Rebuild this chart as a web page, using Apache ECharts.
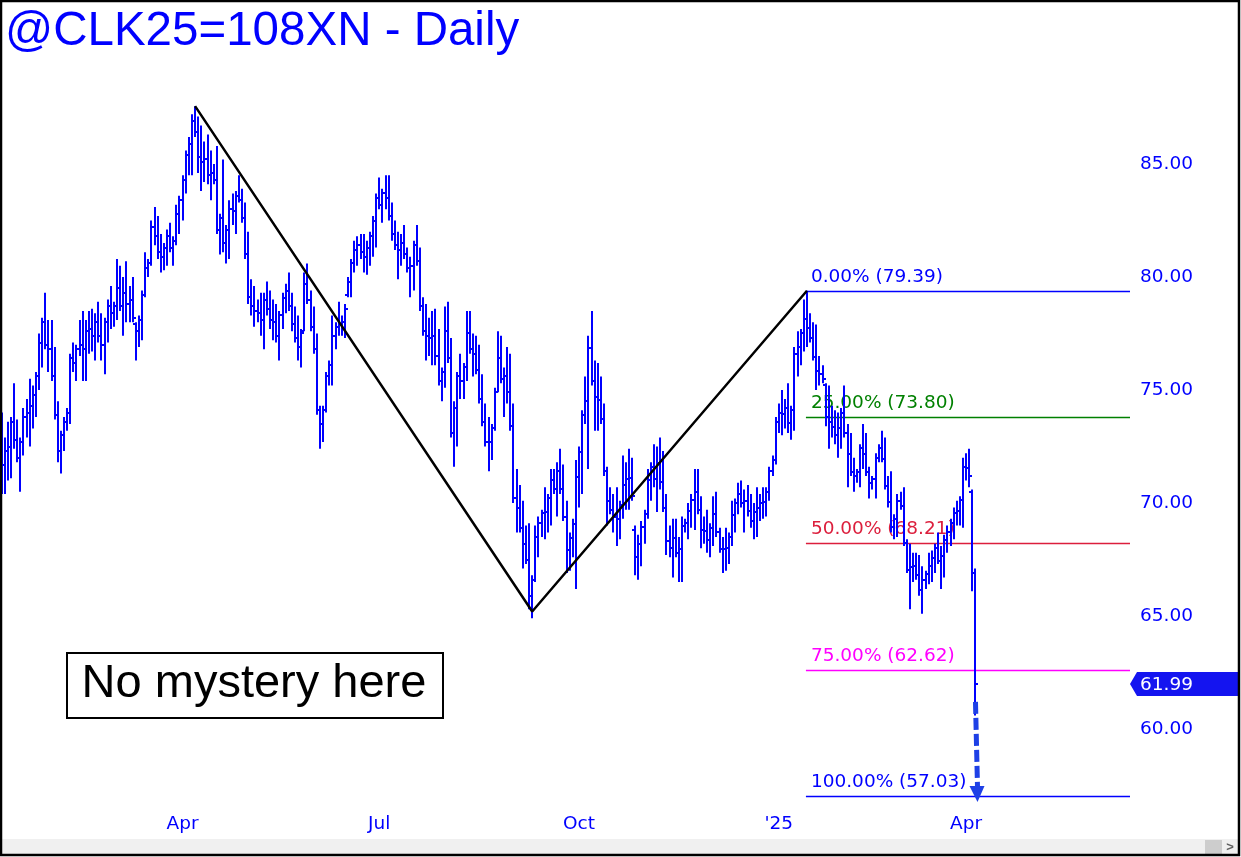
<!DOCTYPE html>
<html><head><meta charset="utf-8">
<script src="https://cdn.jsdelivr.net/npm/echarts@6/dist/echarts.min.js"></script>
<style>html,body{margin:0;padding:0;background:#fff}#c{width:1241px;height:857px}</style>
</head><body><div id="c"></div>
<script>
// ---------- data ----------
const titleText = '@CLK25=108XN - Daily';
const noteText = 'No mystery here';
const startDate = '2024-01-05';
const holidays = ['2024-01-15','2024-02-19','2024-03-29','2024-05-27','2024-06-19','2024-07-04','2024-09-02','2024-11-28','2024-12-25','2025-01-01','2025-01-09','2025-01-20','2025-02-17','2025-04-18','2025-05-26'];
const slotCount = 362;
const xTickDates = ['2024-04-01','2024-07-01','2024-10-01','2025-01-02','2025-04-01'];
const xTickLabels = ['Apr','Jul','Oct',"'25",'Apr'];

const high = [74.0,72.9,73.6,73.8,75.3,73.7,72.9,74.2,74.6,75.5,
75.2,75.8,77.5,78.2,79.3,78.1,78.1,76.9,74.5,73.2,
73.8,74.2,76.6,77.1,77.0,78.1,78.5,78.1,78.5,78.6,
78.4,78.9,78.4,78.2,79.0,79.6,78.9,80.8,80.5,80.0,
80.7,79.6,80.0,78.0,78.3,79.4,81.1,80.8,82.5,83.1,
82.7,81.9,81.5,82.1,82.4,81.8,83.2,83.6,84.5,85.6,
86.2,87.2,87.56,87.1,86.7,86.0,86.3,85.6,85.0,85.8,
82.8,85.2,82.3,83.4,83.7,83.8,84.5,83.9,83.3,82.0,
79.9,79.6,79.0,79.3,79.3,79.8,79.4,79.0,78.8,78.5,
79.3,79.7,80.2,79.3,78.7,78.3,77.7,80.2,80.6,79.4,
78.7,77.5,74.3,74.3,75.8,76.3,78.3,78.0,78.9,78.3,
78.8,80.0,80.8,81.6,81.8,81.9,81.9,81.6,82.0,82.7,
83.7,84.4,83.9,84.5,84.5,83.3,82.5,82.0,81.9,82.3,
81.3,80.9,81.6,82.3,81.3,79.1,78.8,78.2,78.5,78.6,
77.7,76.0,78.7,78.9,77.3,74.5,75.8,76.6,76.2,78.5,
78.5,77.5,77.4,77.0,75.7,74.4,73.8,73.5,75.1,77.6,
77.4,76.0,76.9,76.6,74.4,71.5,70.8,70.1,69.0,69.1,
66.8,69.0,69.4,69.7,70.7,70.4,71.5,71.5,71.8,72.4,
71.7,70.1,68.7,69.3,71.9,72.5,74.1,75.6,77.4,78.5,
76.3,76.2,75.6,74.4,71.6,70.7,70.4,70.7,70.1,72.1,
71.8,72.4,72.0,69.0,68.6,69.2,69.7,71.5,71.8,72.6,
72.5,72.9,72.3,70.4,69.0,69.3,69.3,68.5,69.4,69.3,
70.0,70.4,71.5,71.5,70.3,69.4,69.7,69.1,70.3,70.5,
68.9,68.5,68.9,68.7,70.1,70.2,70.9,71.0,70.6,70.8,
70.4,70.0,70.7,70.4,70.7,70.7,71.6,72.1,73.8,74.4,
75.0,74.6,75.3,74.3,76.9,77.6,77.7,79.0,79.39,78.4,
78.0,77.9,76.5,76.1,75.3,75.2,74.3,74.1,74.0,74.2,
75.2,73.5,73.1,72.0,71.5,72.6,73.5,73.1,71.6,71.2,
72.2,72.6,73.2,72.9,71.2,71.4,69.5,70.4,70.5,70.7,
68.4,68.2,67.8,67.8,67.7,67.2,67.0,67.8,67.9,68.2,
68.7,68.1,68.6,69.0,69.3,69.8,70.1,70.3,72.0,72.2,
72.4,70.6,67.1];

const low = [70.4,70.4,71.0,71.1,72.4,71.8,70.5,72.1,72.9,72.5,
73.3,73.8,75.0,76.0,76.8,75.8,75.4,73.7,71.8,71.3,
72.3,73.2,73.5,75.8,75.4,76.5,75.4,75.4,76.6,76.7,
76.3,77.1,76.3,75.7,77.1,77.7,77.8,78.1,78.5,77.4,
78.0,78.0,78.0,76.3,76.9,77.2,79.1,80.0,80.5,81.4,
80.8,80.2,80.3,80.5,81.1,80.5,81.4,81.9,82.5,83.7,
84.5,84.5,86.2,84.6,83.8,84.2,84.1,83.4,84.1,81.9,
81.0,81.1,80.6,80.8,82.3,81.9,83.3,82.4,80.8,78.8,
78.3,77.8,78.0,77.4,76.8,78.3,77.7,77.2,77.1,76.3,
77.7,78.4,78.5,77.6,77.1,76.3,76.0,77.6,78.8,77.6,
76.6,73.9,72.4,72.7,74.0,75.2,75.2,76.8,77.4,77.4,
77.3,79.1,79.1,80.2,80.5,80.8,80.2,80.1,80.5,80.9,
81.3,83.0,82.4,83.0,82.5,81.6,81.2,79.9,80.5,80.8,
80.2,79.1,79.4,80.5,78.5,77.4,76.3,76.5,76.1,76.1,
75.2,74.5,75.1,76.2,72.9,71.6,72.5,74.6,74.6,75.4,
76.6,75.6,75.7,74.4,73.4,72.5,71.4,71.9,73.2,74.9,
75.3,73.8,74.4,73.2,70.0,68.7,68.7,67.1,67.3,65.3,
64.9,66.5,67.6,68.5,68.4,68.7,69.0,70.4,69.4,70.4,
69.2,66.9,67.0,67.6,66.2,69.8,70.4,73.5,71.5,75.2,
73.2,73.2,73.5,71.2,69.0,69.5,68.7,68.1,68.4,69.3,
69.7,69.7,70.1,66.8,66.6,67.2,68.2,69.3,70.1,70.7,
69.6,70.6,69.6,67.7,67.6,66.7,67.6,66.5,66.5,68.7,
68.4,68.9,68.8,69.5,68.0,68.2,67.8,67.6,68.1,68.5,
67.8,66.9,67.0,67.3,68.1,68.7,69.5,69.8,68.7,69.4,
68.9,68.4,68.5,69.2,69.3,69.4,70.1,71.2,71.7,73.1,
73.0,73.3,73.1,72.8,73.2,75.6,76.1,76.7,76.9,77.1,
76.3,75.0,75.2,75.3,73.4,72.4,72.9,72.6,72.0,72.4,
72.9,70.7,71.2,70.5,70.9,70.7,71.5,71.2,70.2,70.6,
70.2,71.8,71.8,70.6,69.8,68.7,68.4,68.5,69.7,68.1,
66.9,65.3,66.5,66.6,65.9,65.1,66.2,66.4,66.5,66.9,
67.3,66.2,66.7,67.8,68.1,68.4,69.0,69.0,68.9,71.0,
70.7,66.1,60.6];

const open = [72.5,71.7,72.3,72.5,73.6,72.8,72.0,72.7,73.8,74.0,
74.3,74.8,75.6,77.1,78.0,77.0,76.8,75.6,73.9,72.3,
73.0,73.6,74.0,76.4,76.2,76.8,77.0,76.8,77.6,77.7,
77.4,78.0,77.4,77.0,78.0,78.7,78.4,78.7,79.5,78.7,
79.3,78.8,79.0,77.9,77.6,78.1,79.2,80.4,80.6,82.2,
81.8,81.1,80.9,81.3,81.8,81.3,81.6,82.8,83.4,84.3,
85.4,85.9,86.9,86.4,85.3,85.1,85.2,84.5,84.6,84.3,
82.1,82.6,81.5,82.1,83.0,82.9,83.6,83.4,82.6,81.0,
79.1,78.7,78.5,78.4,78.1,79.0,78.6,78.1,78.0,77.4,
78.3,79.05,79.4,78.7,77.9,77.3,76.9,77.6,79.7,79.0,
77.8,76.8,74.1,73.5,74.1,75.6,76.1,77.4,77.8,77.9,
78.0,79.2,79.8,80.6,81.2,81.4,81.1,80.9,81.3,81.8,
82.5,83.5,83.2,83.7,83.5,82.7,81.9,81.4,81.2,81.5,
81.0,80.4,80.5,81.4,80.7,78.7,77.6,77.4,77.3,77.4,
76.5,75.4,75.8,77.6,76.4,73.1,74.2,75.6,75.4,76.0,
77.5,76.8,76.6,75.9,74.6,73.6,72.7,72.7,73.3,74.9,
76.4,75.5,75.6,74.9,73.4,70.2,69.8,68.9,68.2,67.5,
65.9,66.6,68.5,69.1,69.55,69.6,70.2,71.0,70.6,71.4,
70.6,69.4,67.9,68.45,69.05,71.15,72.25,73.9,74.5,76.85,
75.4,74.7,74.55,73.7,71.4,70.1,69.7,69.4,69.3,69.9,
70.8,71.05,71.1,68.8,67.6,68.2,68.95,69.5,71.0,71.6,
71.05,71.75,70.95,69.8,68.3,68.0,68.45,67.8,67.95,69.0,
69.1,69.65,70.15,70.5,69.7,68.8,68.75,68.35,68.9,69.5,
68.7,67.95,67.95,68.0,68.5,69.45,70.0,70.4,70.0,70.1,
69.65,69.2,69.6,69.8,70.0,70.05,70.5,71.4,71.9,73.6,
74.0,73.95,74.2,73.55,74.1,76.6,76.9,77.5,78.15,77.75,
77.3,76.45,75.85,75.7,75.2,73.8,73.6,73.35,73.0,73.3,
74.0,73.1,72.15,71.35,71.2,71.35,72.45,72.15,71.35,70.9,
71.05,72.0,72.45,71.95,70.75,70.05,68.95,69.3,70.1,69.85,
68.25,67.05,67.15,67.2,66.8,66.15,66.6,66.85,67.2,67.55,
68.0,67.45,67.65,68.35,68.7,69.1,69.55,69.65,70.15,71.6,
71.55,70.5,66.9];

const close = [71.7,72.3,72.5,73.6,72.8,72.0,72.7,73.8,74.0,74.3,
74.8,75.6,77.1,78.0,77.0,76.8,75.6,73.9,72.3,73.0,
73.6,74.0,76.4,76.2,76.8,77.0,76.8,77.6,77.7,77.4,
78.0,77.4,77.0,78.0,78.7,78.4,78.7,79.5,78.7,79.3,
78.8,79.0,78.2,77.6,78.1,79.2,80.4,80.6,82.2,81.8,
81.1,80.9,81.3,81.8,81.3,81.6,82.8,83.4,84.3,85.4,
85.9,86.9,86.4,85.3,85.1,85.2,84.5,84.6,84.3,82.1,
82.6,81.5,82.1,83.0,82.9,83.6,83.4,82.6,81.0,79.1,
78.7,78.5,78.4,78.1,79.0,78.6,78.1,78.0,77.4,78.3,
79.05,79.4,78.7,77.9,77.3,76.9,77.5,79.7,79.0,77.8,
76.8,74.1,73.5,74.1,75.6,76.1,77.4,77.8,77.9,78.0,
78.6,79.8,80.6,81.2,81.4,81.1,80.9,81.3,81.8,82.5,
83.5,83.2,83.7,83.5,82.7,81.9,81.4,81.2,81.5,81.0,
80.4,80.5,81.4,80.7,78.7,77.6,77.4,77.3,77.4,76.5,
75.4,75.8,77.6,76.4,73.1,74.2,75.6,75.4,76.0,77.5,
76.8,76.6,75.9,74.6,73.6,72.7,72.7,73.3,74.9,76.4,
75.5,75.6,74.9,73.4,70.2,69.8,68.9,68.2,67.5,65.9,
66.6,68.5,69.1,69.55,69.6,70.2,71.0,70.6,71.4,70.6,
69.4,67.9,68.45,69.05,71.15,72.25,73.9,74.5,76.85,75.4,
74.7,74.55,73.7,71.4,70.1,69.7,69.4,69.3,69.9,70.8,
71.05,71.1,70.3,67.6,68.2,68.95,69.5,71.0,71.6,71.05,
71.75,70.95,69.8,68.3,68.0,68.45,67.8,67.95,69.0,69.1,
69.65,70.15,70.5,69.7,68.8,68.75,68.35,68.9,69.5,68.7,
67.95,67.95,68.0,68.5,69.45,70.0,70.4,70.0,70.1,69.65,
69.2,69.6,69.8,70.0,70.05,70.5,71.4,71.9,73.6,74.0,
73.95,74.2,73.55,74.1,76.6,76.9,77.5,78.15,77.75,77.3,
76.45,75.85,75.7,75.5,73.8,73.6,73.35,73.0,73.3,74.0,
73.1,72.15,71.35,71.2,71.35,72.45,72.15,71.35,70.9,71.05,
72.0,72.45,71.95,70.75,70.05,68.95,69.3,70.1,69.85,68.25,
67.05,67.15,67.2,66.8,66.15,66.6,66.85,67.2,67.55,68.0,
67.45,67.65,68.35,68.7,69.1,69.55,69.65,70.15,71.6,71.55,
71.2,66.9,61.99];

// swing points (bar index, price)
const swingIdx = [62, 170, 258];
const swingPrice = [87.56, 65.20, 79.39];
// Fibonacci projection
const fibPct = [0, 25, 50, 75, 100];
const fibPrice = [79.39, 73.80, 68.21, 62.62, 57.03];
const fibColor = ['#0000ff', '#008000', '#dc1e3c', '#ff00ff', '#0000ff'];
const fibStartIdx = 258;
const lastPrice = 61.99;
const projFrom = 61.2;
const projTo = 57.03;

// ---------- helpers ----------
const dates = [];
for (let d = new Date(startDate + 'T00:00:00Z'); dates.length < slotCount; d.setUTCDate(d.getUTCDate() + 1)) {
  const wd = d.getUTCDay();
  const s = d.toISOString().slice(0, 10);
  if (wd === 0 || wd === 6 || holidays.includes(s)) continue;
  dates.push(s);
}
const tickIdx = xTickDates.map(s => dates.indexOf(s));
const lastIdx = close.length - 1;
const FONT = '"Liberation Sans", Arial, sans-serif';
const SMALL = '"DejaVu Sans", Verdana, sans-serif';
const BLUE = '#0000ff';

const ohlcData = high.map((h, i) => [i, open[i], h, low[i], close[i]]);

const chart = echarts.init(document.getElementById('c'), null, {renderer: 'canvas'});
chart.setOption({
  animation: false,
  backgroundColor: '#ffffff',
  title: {
    text: titleText, left: 5, top: 8, padding: 0,
    textStyle: {color: BLUE, fontSize: 47.5, fontWeight: 'normal', fontFamily: FONT}
  },
  grid: {left: 0, right: 111, top: 51, bottom: 15, containLabel: false},
  xAxis: {
    type: 'category', data: dates, boundaryGap: true,
    axisLine: {show: false}, axisTick: {show: false}, splitLine: {show: false},
    axisLabel: {
      interval: (idx) => tickIdx.includes(idx),
      formatter: (v, idx) => { const k = tickIdx.indexOf(idx); return k >= 0 ? xTickLabels[k] : ''; },
      margin: -27, color: BLUE, fontSize: 18.5, fontFamily: SMALL
    }
  },
  yAxis: {
    type: 'value', position: 'right', min: 55, max: 90, interval: 5, scale: true,
    axisLine: {show: false}, axisTick: {show: false}, splitLine: {show: false},
    axisLabel: {
      showMinLabel: false, showMaxLabel: false, margin: 10,
      formatter: v => v.toFixed(2), color: BLUE, fontSize: 18.5, fontFamily: SMALL
    }
  },
  series: [
    { // Fibonacci lines and labels
      type: 'custom', z: 1, silent: true,
      data: [[fibStartIdx, fibPrice[0]]],
      renderItem: function (params, api) {
        const right = params.coordSys.x + params.coordSys.width;
        const children = [];
        fibPrice.forEach((v, k) => {
          const p = api.coord([fibStartIdx, v]);
          const y = Math.round(p[1]) + 0.5;
          children.push({type: 'line', shape: {x1: p[0] - 1, y1: y, x2: right, y2: y},
            style: {stroke: fibColor[k], lineWidth: 1.5}});
          children.push({type: 'text', x: p[0] + 4, y: y - 14,
            style: {text: fibPct[k].toFixed(2) + '% (' + v.toFixed(2) + ')', fill: fibColor[k],
              font: '18.5px ' + SMALL, align: 'left', verticalAlign: 'middle'}});
        });
        return {type: 'group', children};
      }
    },
    { // OHLC bars
      type: 'custom', z: 2, silent: true,
      data: ohlcData,
      encode: {x: 0, y: [1, 2, 3, 4]},
      renderItem: function (params, api) {
        const i = api.value(0);
        const ph = api.coord([i, api.value(2)]);
        const yl = api.coord([i, api.value(3)])[1];
        const yo = Math.round(api.coord([i, api.value(1)])[1]);
        const yc = Math.round(api.coord([i, api.value(4)])[1]);
        const x = Math.round(ph[0]);
        const st = {stroke: BLUE, lineWidth: 2};
        return {type: 'group', children: [
          {type: 'line', shape: {x1: x, y1: ph[1], x2: x, y2: yl}, style: st},
          {type: 'line', shape: {x1: x - 3, y1: yo, x2: x, y2: yo}, style: st},
          {type: 'line', shape: {x1: x, y1: yc, x2: x + 3, y2: yc}, style: st}
        ]};
      }
    },
    { // swing zigzag
      type: 'line', z: 3, silent: true,
      data: swingIdx.map((ix, k) => [ix, swingPrice[k]]),
      symbol: 'rect', symbolSize: 7,
      lineStyle: {color: '#000000', width: 2.5},
      itemStyle: {color: '#000000'}
    },
    { // projection arrow and last price tag
      type: 'custom', z: 4, silent: true,
      data: [[lastIdx, lastPrice]],
      renderItem: function (params, api) {
        const right = params.coordSys.x + params.coordSys.width;
        const pTop = api.coord([lastIdx, projFrom]);
        const pEnd = api.coord([lastIdx, projTo]);
        const x = pTop[0];
        const tipY = pEnd[1] + 6;
        const baseY = tipY - 16;
        const tag = api.coord([lastIdx, lastPrice]);
        const ty = Math.round(tag[1]);
        return {type: 'group', children: [
          {type: 'line', shape: {x1: x, y1: pTop[1], x2: x + 2, y2: baseY},
            style: {stroke: '#1e40e6', lineWidth: 5, lineDash: [12, 4]}},
          {type: 'polygon', shape: {points: [[x - 6, baseY], [x + 9, baseY], [x + 2, tipY]]},
            style: {fill: '#1e40e6'}},
          {type: 'polygon', shape: {points: [[right, ty], [right + 7, ty - 12], [1238, ty - 12], [1238, ty + 12], [right + 7, ty + 12]]},
            style: {fill: '#1414f0'}},
          {type: 'text', x: right + 10, y: ty + 1,
            style: {text: lastPrice.toFixed(2), fill: '#ffffff', font: '18.5px ' + SMALL, align: 'left', verticalAlign: 'middle'}}
        ]};
      }
    }
  ],
  graphic: [
    {type: 'rect', left: 66, top: 652, shape: {width: 376, height: 65}, style: {fill: '#ffffff', stroke: '#000000', lineWidth: 2}, z: 10},
    {type: 'text', x: 254, y: 684, style: {text: noteText, fill: '#000000', font: '47px ' + FONT, align: 'center', verticalAlign: 'middle'}, z: 11},
    {type: 'rect', shape: {x: 2, y: 839, width: 1236, height: 16}, style: {fill: '#f0f0f0'}, z: 10},
    {type: 'rect', shape: {x: 1205, y: 840, width: 17, height: 14}, style: {fill: '#cdcdcd'}, z: 11},
    {type: 'text', x: 1230, y: 847, style: {text: '>', fill: '#606060', font: 'bold 13px ' + FONT, align: 'center', verticalAlign: 'middle'}, z: 11},
    {type: 'rect', shape: {x: 1, y: 1, width: 1238, height: 854}, style: {fill: 'none', stroke: '#000000', lineWidth: 2.5}, z: 12}
  ]
});
</script>
</body></html>
